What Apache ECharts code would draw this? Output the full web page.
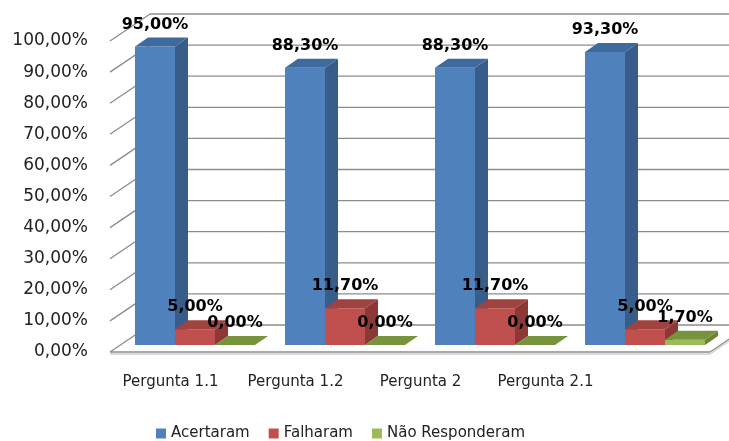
<!DOCTYPE html>
<html>
<head>
<meta charset="utf-8">
<script src="https://cdn.jsdelivr.net/npm/echarts@6/dist/echarts.min.js"></script>
<style>
  html, body { margin: 0; padding: 0; background: #fff; }
  #chart { width: 729px; height: 441px; }
</style>
</head>
<body>
<div id="chart"></div>
<script>
const perguntas = ['Pergunta 1.1', 'Pergunta 1.2', 'Pergunta 2', 'Pergunta 2.1'];
const acertaram = [95.0, 88.3, 88.3, 93.3];
const falharam = [5.0, 11.7, 11.7, 5.0];
const naoResponderam = [0.0, 0.0, 0.0, 1.7];
const yTicks = [0, 10, 20, 30, 40, 50, 60, 70, 80, 90, 100];

const chart = echarts.init(document.getElementById('chart'));

// 3d look: floor / back wall depth, bar plane shift and bar depth
const wallDx = 40, wallDy = -27;
const barShiftX = 10, barShiftY = -7;
const barDx = 13, barDy = -9;
const barScale = 1.01;

function pct(v) {
  return v.toFixed(2).replace('.', ',') + '%';
}

function barRender(slot, colors) {
  return function (params, api) {
    const i = api.value(0);
    const v = api.value(1);
    const base = api.coord([i, 0]);
    const top = api.coord([i, v]);
    const w = api.size([1, 0])[0] * 0.2667;
    const x0 = base[0] + barShiftX - w * 1.5 + slot * w;
    const x1 = x0 + w;
    const y0 = base[1] + barShiftY;
    const y1 = y0 - (base[1] - top[1]) * barScale;
    const children = [];
    if (y0 - y1 > 0.5) {
      children.push({
        type: 'polygon',
        shape: { points: [[x1, y1], [x1 + barDx, y1 + barDy], [x1 + barDx, y0 + barDy], [x1, y0]] },
        style: { fill: colors[1] }
      });
      children.push({
        type: 'rect',
        shape: { x: x0, y: y1, width: w, height: y0 - y1 },
        style: { fill: colors[0] }
      });
    }
    children.push({
      type: 'polygon',
      shape: { points: [[x0, y1], [x0 + barDx, y1 + barDy], [x1 + barDx, y1 + barDy], [x1, y1]] },
      style: { fill: colors[2] }
    });
    children.push({
      type: 'text',
      x: x0 + w / 2,
      y: y1 - 22,
      z2: 10,
      style: {
        text: pct(v),
        font: 'bold 16px "DejaVu Sans"',
        fill: '#000',
        align: 'center',
        verticalAlign: 'middle'
      }
    });
    return { type: 'group', children: children };
  };
}

function wallRender(params, api) {
  const cs = params.coordSys;
  const t = api.value(1);
  const y = api.coord([0, t])[1];
  const gx = cs.x, gr = cs.x + cs.width;
  function line(x1, y1, x2, y2, c) {
    return { type: 'line', shape: { x1: x1, y1: y1, x2: x2, y2: y2 }, style: { stroke: c || '#8C8C8C', lineWidth: 1.3 } };
  }
  const ch = [
    line(gx, y, gx + wallDx, y + wallDy),
    line(gx + wallDx, y + wallDy, gr + wallDx, y + wallDy)
  ];
  if (t === 0) {
    ch.push(line(gx, y + 2, gr, y + 2, '#D0D0D0'));
    ch.push(line(gr, y + 2, gr + wallDx, y + wallDy + 2, '#D0D0D0'));
    ch.push(line(gx, y, gr, y));
    ch.push(line(gr, y, gr + wallDx, y + wallDy));
  }
  return { type: 'group', children: ch };
}

const textFont = 'DejaVu Sans';

const option = {
  animation: false,
  backgroundColor: '#fff',
  grid: [
    { left: 110, right: 19, top: 41, bottom: 89 },
    { left: 108, width: 500, top: 41, bottom: 89 }
  ],
  xAxis: [
    {
      type: 'category', gridIndex: 0, data: perguntas,
      axisLine: { show: false }, axisTick: { show: false }, axisLabel: { show: false }
    },
    {
      type: 'category', gridIndex: 1, data: perguntas,
      axisLine: { show: false }, axisTick: { show: false },
      axisLabel: { margin: 23, fontFamily: textFont, fontSize: 15, color: '#222' }
    }
  ],
  yAxis: [
    {
      type: 'value', gridIndex: 0, min: 0, max: 100, interval: 10,
      axisLine: { show: false }, axisTick: { show: false }, splitLine: { show: false },
      axisLabel: { margin: 22, fontFamily: textFont, fontSize: 17, color: '#222', formatter: pct }
    },
    {
      type: 'value', gridIndex: 1, min: 0, max: 100, show: false
    }
  ],
  legend: {
    data: ['Acertaram', 'Falharam', 'Não Responderam'],
    left: 151, top: 421,
    icon: 'rect', itemWidth: 10, itemHeight: 10, itemGap: 19,
    textStyle: { fontFamily: textFont, fontSize: 15, color: '#222' }
  },
  series: [
    {
      type: 'custom', name: 'wall', silent: true, z: 1,
      renderItem: wallRender,
      data: yTicks.map(function (t) { return [0, t]; })
    },
    {
      type: 'custom', name: 'Acertaram', z: 2,
      itemStyle: { color: '#4F81BD' },
      renderItem: barRender(0, ['#4F81BD', '#385D8A', '#3F6A9E']),
      data: acertaram.map(function (v, i) { return [i, v]; })
    },
    {
      type: 'custom', name: 'Falharam', z: 3,
      itemStyle: { color: '#C0504D' },
      renderItem: barRender(1, ['#C0504D', '#8C3836', '#A0423F']),
      data: falharam.map(function (v, i) { return [i, v]; })
    },
    {
      type: 'custom', name: 'Não Responderam', z: 4,
      itemStyle: { color: '#9BBB59' },
      renderItem: barRender(2, ['#9BBB59', '#6A8534', '#77933C']),
      data: naoResponderam.map(function (v, i) { return [i, v]; })
    }
  ]
};

chart.setOption(option);
</script>
</body>
</html>
